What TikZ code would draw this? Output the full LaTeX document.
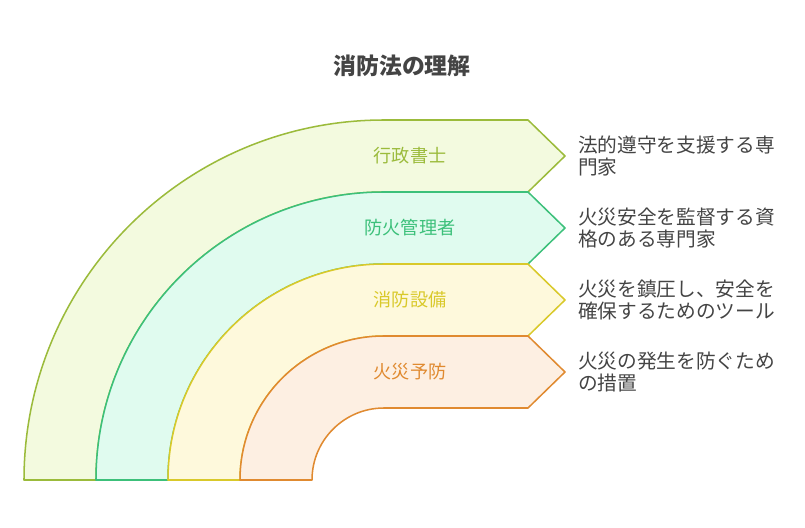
\documentclass[tikz,border=0pt]{standalone}
\usepackage{fontspec}
\setmainfont{Noto Sans CJK JP}
\usetikzlibrary{calc}
\definecolor{cA}{HTML}{9BBB3B}\definecolor{fA}{HTML}{F3FADF}
\definecolor{cB}{HTML}{3CC07A}\definecolor{fB}{HTML}{E0FBEF}
\definecolor{cC}{HTML}{D9C92A}\definecolor{fC}{HTML}{FEF9DC}
\definecolor{cD}{HTML}{E08A30}\definecolor{fD}{HTML}{FDEFE2}
\definecolor{ink}{HTML}{444444}
\begin{document}
\begin{tikzpicture}[x=0.03cm,y=0.03cm,line join=round,
  band/.style={line width=1.3pt},
  lbl/.style={font=\fontsize{15.5}{18}\selectfont},
  note/.style={anchor=west,align=left,text=ink,font=\fontsize{16.8}{19.5}\selectfont}]
\useasboundingbox (0,0) rectangle (805,528);
\node[font=\fontsize{19.5}{22}\selectfont\bfseries,text=ink] (title) at (402,462) {消防法の理解};
\foreach \i/\c/\f/\t/\n in {0/cA/fA/行政書士/{法的遵守を支援する専\\門家},
  1/cB/fB/防火管理者/{火災安全を監督する資\\格のある専門家},
  2/cC/fC/消防設備/{火災を鎮圧し、安全を\\確保するためのツール},
  3/cD/fD/火災予防/{火災の発生を防ぐため\\の措置}}{
  \pgfmathsetmacro\R{360-72*\i}
  \pgfmathsetmacro\r{\R-72}
  \draw[band,draw=\c,fill=\f] (384-\R,48) arc[start angle=180,end angle=90,radius=\R]
    -- (528,48+\R) -- (565,48+\R-36) -- (528,48+\r) -- (384,48+\r)
    arc[start angle=90,end angle=180,radius=\r] -- cycle;
  \node[lbl,text=\c] (lbl\i) at (410,48+\R-36) {\t};
  \node[note] (note\i) at (574,48+\R-36) {\n};
}
\end{tikzpicture}
\end{document}
